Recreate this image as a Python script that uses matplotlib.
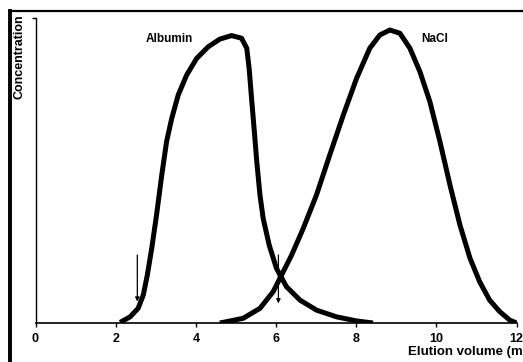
import matplotlib
matplotlib.use("Agg")
import matplotlib.pyplot as plt
from matplotlib.lines import Line2D

plt.rcParams['font.family'] = ['Liberation Sans', 'DejaVu Sans']
plt.rcParams['font.weight'] = 'bold'

# Albumin elution profile (volume in ml, relative concentration)
albumin_x = [2.11, 2.36, 2.56, 2.69, 2.79, 2.90, 3.02, 3.15, 3.27, 3.40, 3.56, 3.77, 4.02, 4.31,
             4.60, 4.89, 5.14, 5.27, 5.33, 5.39, 5.46, 5.52, 5.60, 5.68, 5.83, 6.01, 6.26, 6.60,
             7.01, 7.51, 8.01, 8.42]
albumin_y = [0.002, 0.021, 0.05, 0.096, 0.164, 0.255, 0.369, 0.505, 0.619, 0.699, 0.778, 0.846, 0.903, 0.943,
             0.969, 0.981, 0.972, 0.938, 0.869, 0.767, 0.653, 0.551, 0.437, 0.357, 0.266, 0.187, 0.124, 0.078,
             0.044, 0.021, 0.007, 0.0]

# NaCl elution profile
nacl_x = [4.60, 5.18, 5.60, 5.93, 6.10, 6.39, 6.68, 7.01, 7.34, 7.68, 8.01, 8.34, 8.59, 8.84,
          9.09, 9.34, 9.59, 9.84, 10.09, 10.34, 10.59, 10.84, 11.08, 11.33, 11.58, 11.83, 12.0]
nacl_y = [0.0, 0.016, 0.05, 0.107, 0.153, 0.232, 0.323, 0.437, 0.573, 0.710, 0.835, 0.938, 0.983, 1.0,
          0.989, 0.938, 0.858, 0.755, 0.619, 0.471, 0.334, 0.221, 0.141, 0.078, 0.039, 0.010, 0.0]

# Arrows marking volumes (x, y_start, y_end)
arrow_x = [2.54, 6.06]
arrow_y0 = [0.232, 0.232]
arrow_y1 = [0.073, 0.067]

xticks = [0, 2, 4, 6, 8, 10, 12]
xticklabels = ['0', '2', '4', '6', '8', '10', '12']

W, H = 523, 362
fig = plt.figure(figsize=(W / 100, H / 100), dpi=100)
ax = fig.add_axes([35.5 / W, (H - 323) / H, 481 / W, (323 - 18) / H])

for xs, ys in [(albumin_x, albumin_y), (nacl_x, nacl_y)]:
    ax.plot(xs, ys, color='black', lw=3.6, solid_joinstyle='round', solid_capstyle='butt')

for xa, y0, y1 in zip(arrow_x, arrow_y0, arrow_y1):
    ax.annotate('', xy=(xa, y1), xytext=(xa, y0),
                arrowprops=dict(arrowstyle='-|>', color='black', lw=0.9,
                                mutation_scale=6, shrinkA=0, shrinkB=0))

ax.text(3.33, 0.969, 'Albumin', ha='center', va='center', fontsize=8.5, fontweight='bold')
ax.text(9.97, 0.969, 'NaCl', ha='center', va='center', fontsize=8.5, fontweight='bold')

ax.set_xlim(0, 12)
ax.set_ylim(0, 1.041)
for s in ['top', 'right']:
    ax.spines[s].set_visible(False)
ax.spines['left'].set_linewidth(1.0)
ax.spines['bottom'].set_linewidth(1.2)
ax.set_xticks(xticks)
ax.set_xticklabels(xticklabels, fontsize=9, fontweight='bold')
ax.tick_params(axis='x', direction='out', length=3, width=1, pad=4)
ax.set_yticks([1.041])
ax.set_yticklabels([''])
ax.tick_params(axis='y', direction='out', length=3, width=1)

fig.text(408 / W, 1 - 352 / H, 'Elution volume (ml)', ha='left', va='center',
         fontsize=9.5, fontweight='bold')
fig.text(20 / W, 1 - 57 / H, 'Concentration', ha='center', va='center', rotation=90,
         fontsize=9, fontweight='bold')

# scanned frame edges
fig.add_artist(Line2D([10 / W, 1], [1 - 11 / H, 1 - 11 / H], color='black', lw=1.6,
                      transform=fig.transFigure))
fig.add_artist(Line2D([10 / W, 10 / W], [0, 1 - 11 / H], color='black', lw=2.8,
                      transform=fig.transFigure))

fig.savefig('out.png', dpi=100)
